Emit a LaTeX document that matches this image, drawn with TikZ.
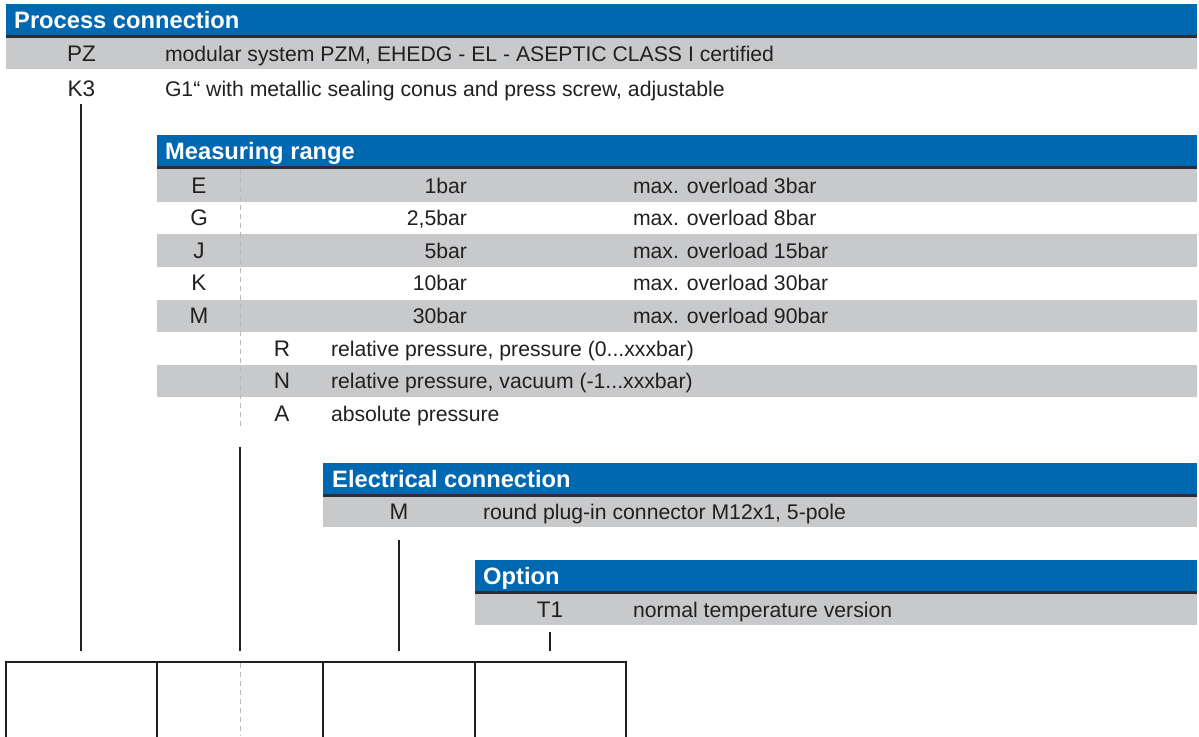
\documentclass[tikz,border=0pt]{standalone}
\usepackage{fontspec}
\setmainfont{Liberation Sans}
\definecolor{hblue}{RGB}{0,103,177}
\definecolor{rowgray}{RGB}{200,201,203}
\definecolor{ink}{RGB}{35,31,32}
\definecolor{sepline}{RGB}{45,45,50}
\definecolor{dashgray}{RGB}{185,185,185}
\begin{document}
\begin{tikzpicture}[x=1pt,y=-1pt,
  txt/.style={inner sep=0pt, outer sep=0pt, text=ink, font=\fontsize{21.2}{25}\selectfont},
  code/.style={inner sep=0pt, outer sep=0pt, text=ink, font=\fontsize{22.5}{27}\selectfont, anchor=base},
  desc/.style={txt, anchor=base west},
  val/.style={txt, anchor=base east},
  htxt/.style={inner sep=0pt, anchor=base west, text=white, font=\fontsize{23.7}{28}\selectfont\bfseries},
  conn/.style={draw=ink, line width=2pt},
  boxline/.style={draw=ink, line width=2pt},
  guide/.style={draw=dashgray, line width=1pt, dash pattern=on 5pt off 4pt}]
\useasboundingbox (0,0) rectangle (1199,736);
% ---------- Process connection ----------
\fill[hblue] (6,4) rectangle (1197,35);
\fill[sepline] (6,35) rectangle (1197,38);
\fill[rowgray] (6,38) rectangle (1197,69);
\node[htxt] (hpc) at (14,28) {Process connection};
\node[code] (pz) at (81.5,61.5) {PZ};
\node[desc] (pzd) at (165,61.5) {modular system PZM, EHEDG - EL - ASEPTIC CLASS I certified};
\node[code] (k3) at (81.5,96) {K3};
\node[desc] (k3d) at (165,96) {G1“ with metallic sealing conus and press screw, adjustable};
% ---------- Measuring range ----------
\fill[hblue] (157,135) rectangle (1197,166);
\fill[sepline] (157,166) rectangle (1197,169);
\fill[rowgray] (157,169) rectangle (1197,201.5);
\fill[rowgray] (157,234.4) rectangle (1197,267);
\fill[rowgray] (157,299.6) rectangle (1197,332.2);
\fill[rowgray] (157,364.8) rectangle (1197,397.4);
\draw[guide] (240,169) -- (240,430);
\node[htxt] (hmr) at (165,159.5) {Measuring range};
\node[code] (e) at (199,193) {E};
\node[val] (ev) at (467,193) {1bar};
\node[desc] (eo) at (633,193) {max. overload 3bar};
\node[code] (g) at (199,225.6) {G};
\node[val] (gv) at (467,225.6) {2,5bar};
\node[desc] (go) at (633,225.6) {max. overload 8bar};
\node[code] (j) at (199,258.2) {J};
\node[val] (jv) at (467,258.2) {5bar};
\node[desc] (jo) at (633,258.2) {max. overload 15bar};
\node[code] (k) at (199,290.8) {K};
\node[val] (kv) at (467,290.8) {10bar};
\node[desc] (ko) at (633,290.8) {max. overload 30bar};
\node[code] (m) at (199,323.4) {M};
\node[val] (mv) at (467,323.4) {30bar};
\node[desc] (mo) at (633,323.4) {max. overload 90bar};
\node[code] (r) at (282,356) {R};
\node[desc] (rd) at (331,356) {relative pressure, pressure (0...xxxbar)};
\node[code] (n) at (282,388.6) {N};
\node[desc] (nd) at (331,388.6) {relative pressure, vacuum (-1...xxxbar)};
\node[code] (a) at (282,421.2) {A};
\node[desc] (ad) at (331,421.2) {absolute pressure};
% ---------- Electrical connection ----------
\fill[hblue] (323,463) rectangle (1197,494);
\fill[sepline] (323,494) rectangle (1197,497);
\fill[rowgray] (323,497) rectangle (1197,527);
\node[htxt] (hec) at (332,487) {Electrical connection};
\node[code] (em) at (399,519.5) {M};
\node[desc] (emd) at (483,519.5) {round plug-in connector M12x1, 5-pole};
% ---------- Option ----------
\fill[hblue] (475,560) rectangle (1197,591);
\fill[sepline] (475,591) rectangle (1197,594);
\fill[rowgray] (475,594) rectangle (1197,625);
\node[htxt] (hop) at (483,584) {Option};
\node[code] (t1) at (550,617) {T1};
\node[desc] (t1d) at (633,617) {normal temperature version};
% ---------- connectors ----------
\coordinate (c1a) at (81,104);
\coordinate (c1b) at (81,651);
\coordinate (c2a) at (240,447);
\coordinate (c2b) at (240,651);
\coordinate (c3a) at (399,540);
\coordinate (c3b) at (399,651);
\coordinate (c4a) at (550,632);
\coordinate (c4b) at (550,651);
\draw[conn] (c1a) -- (c1b);
\draw[conn] (c2a) -- (c2b);
\draw[conn] (c3a) -- (c3b);
\draw[conn] (c4a) -- (c4b);
% ---------- order code boxes ----------
\draw[guide] (240,663) -- (240,736);
\draw[boxline] (6,737) -- (6,662) -- (626,662) -- (626,737);
\draw[boxline] (157,662) -- (157,737);
\draw[boxline] (323,662) -- (323,737);
\draw[boxline] (475,662) -- (475,737);
\end{tikzpicture}
\end{document}
